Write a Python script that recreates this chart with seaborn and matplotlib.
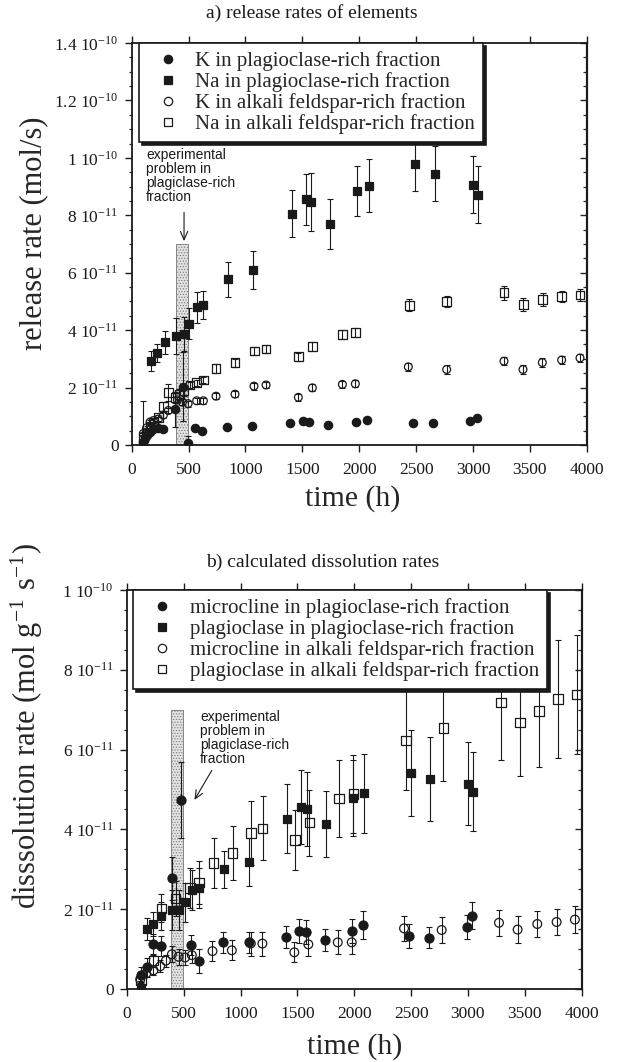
import matplotlib
matplotlib.use("Agg")
import matplotlib.pyplot as plt
import seaborn as sns
import pandas as pd
from matplotlib.lines import Line2D
from matplotlib.patches import Rectangle
from matplotlib.ticker import FixedLocator, FuncFormatter

UNIT = 1e-11  # values below are in units of 1e-11

# ---------------- panel a: release rates (1e-11 mol/s) ----------------
a_K_plag_t = [102, 117, 131, 161, 190, 234, 278, 381, 454, 498, 560, 620, 835, 1055,
              1392, 1509, 1559, 1729, 1969, 2066, 2470, 2646, 2974, 3033]
a_K_plag_v = [0.12, 0.25, 0.35, 0.46, 0.55, 0.59, 0.57, 1.24, 2.03, 0.06, 0.60, 0.50, 0.64, 0.66,
              0.75, 0.83, 0.81, 0.70, 0.81, 0.87, 0.78, 0.75, 0.83, 0.93]
a_K_plag_e = [1.40, 0.05, 0.05, 0.05, 0.05, 0.05, 0.05, 0.60, 1.20, 0.25, 0.10, 0.08, 0.05, 0.05,
              0.05, 0.05, 0.05, 0.05, 0.05, 0.05, 0.05, 0.05, 0.05, 0.05]

a_Na_plag_t = [102, 170, 220, 293, 390, 460, 507, 571, 630, 847, 1063, 1407, 1532, 1573,
               1743, 1983, 2083, 2493, 2667, 2998, 3042]
a_Na_plag_v = [0.05, 2.92, 3.21, 3.57, 3.79, 3.86, 4.23, 4.79, 4.89, 5.77, 6.09, 8.06, 8.56, 8.46,
               7.71, 8.85, 9.03, 9.77, 9.45, 9.07, 8.72]
a_Na_plag_e = [0.05, 0.34, 0.32, 0.40, 0.63, 0.60, 0.55, 0.55, 0.49, 0.60, 0.67, 0.83, 0.89, 1.00,
               0.87, 0.88, 0.92, 0.93, 0.96, 1.00, 1.00]

a_K_alk_t = [102, 131, 161, 190, 234, 278, 322, 402, 446, 496, 571, 630, 741, 908, 1075, 1181,
             1465, 1588, 1852, 1966, 2432, 2769, 3273, 3440, 3610, 3780, 3941]
a_K_alk_v = [0.40, 0.60, 0.80, 0.85, 0.90, 1.04, 1.20, 1.57, 1.49, 1.44, 1.54, 1.54, 1.70, 1.77,
             2.05, 2.09, 1.66, 1.99, 2.11, 2.13, 2.72, 2.63, 2.92, 2.63, 2.87, 2.96, 3.03]
a_K_alk_e = [0.05, 0.05, 0.08, 0.08, 0.08, 0.10, 0.10, 0.10, 0.10, 0.10, 0.10, 0.10, 0.10, 0.10,
             0.12, 0.12, 0.12, 0.12, 0.12, 0.12, 0.15, 0.15, 0.15, 0.15, 0.15, 0.15, 0.15]

a_Na_alk_t = [102, 131, 161, 190, 234, 278, 322, 381, 420, 460, 512, 571, 630, 741, 908, 1078,
              1181, 1465, 1588, 1852, 1966, 2441, 2769, 3273, 3443, 3613, 3780, 3941]
a_Na_alk_v = [0.25, 0.45, 0.65, 0.80, 0.95, 1.33, 1.82, 1.65, 1.75, 1.90, 2.09, 2.17, 2.26, 2.67,
              2.86, 3.27, 3.34, 3.07, 3.42, 3.85, 3.91, 4.87, 4.99, 5.30, 4.89, 5.07, 5.18, 5.22]
a_Na_alk_e = [0.05, 0.05, 0.10, 0.10, 0.10, 0.15, 0.30, 0.20, 0.20, 0.20, 0.10, 0.10, 0.10, 0.15,
              0.15, 0.15, 0.15, 0.15, 0.15, 0.15, 0.15, 0.21, 0.20, 0.25, 0.22, 0.22, 0.20, 0.20]

a_labels = ["K in plagioclase-rich fraction",
            "Na in plagioclase-rich fraction",
            "K in alkali feldspar-rich fraction",
            "Na in alkali feldspar-rich fraction"]

# ---------------- panel b: dissolution rates (1e-11 mol g-1 s-1) ----------------
b_mic_plag_t = [120, 176, 228, 299, 396, 475, 565, 636, 849, 1075, 1400, 1518, 1573, 1743,
                1983, 2080, 2484, 2658, 2995, 3038]
b_mic_plag_v = [0.35, 0.54, 1.12, 1.08, 2.78, 4.74, 1.10, 0.70, 1.17, 1.17, 1.30, 1.46, 1.43, 1.23,
                1.45, 1.60, 1.33, 1.29, 1.56, 1.84]
b_mic_plag_e = [0.20, 0.25, 0.25, 0.25, 0.54, 0.96, 0.25, 0.30, 0.27, 0.27, 0.27, 0.30, 0.30, 0.27,
                0.30, 0.35, 0.30, 0.27, 0.30, 0.33]

b_pl_plag_t = [123, 176, 228, 299, 396, 460, 512, 571, 636, 855, 1075, 1412, 1535, 1582, 1749,
               1993, 2086, 2499, 2666, 2997, 3047]
b_pl_plag_v = [0.02, 1.50, 1.62, 1.83, 1.97, 1.99, 2.17, 2.49, 2.54, 3.00, 3.18, 4.27, 4.56, 4.51,
               4.13, 4.78, 4.91, 5.42, 5.26, 5.14, 4.95]
b_pl_plag_e = [0.05, 0.27, 0.30, 0.35, 0.50, 0.50, 0.50, 0.50, 0.50, 0.46, 0.60, 0.86, 0.92, 0.92,
               0.83, 0.95, 0.99, 1.08, 1.06, 1.04, 0.99]

b_mic_alk_t = [117, 170, 234, 293, 343, 396, 454, 512, 571, 753, 923, 1090, 1192, 1473, 1596,
               1855, 1978, 2438, 2769, 3273, 3437, 3610, 3780, 3941]
b_mic_alk_v = [0.24, 0.39, 0.47, 0.57, 0.71, 0.87, 0.81, 0.79, 0.85, 0.95, 0.97, 1.14, 1.14, 0.92,
               1.12, 1.17, 1.17, 1.52, 1.48, 1.66, 1.49, 1.63, 1.68, 1.74]
b_mic_alk_e = [0.05, 0.10, 0.12, 0.15, 0.15, 0.20, 0.20, 0.20, 0.20, 0.25, 0.25, 0.30, 0.30, 0.25,
               0.30, 0.30, 0.30, 0.32, 0.32, 0.33, 0.33, 0.33, 0.33, 0.33]

b_pl_alk_t = [123, 234, 302, 430, 556, 636, 762, 929, 1093, 1195, 1480, 1606, 1866, 1993, 2455,
              2783, 3290, 3457, 3627, 3794, 3956]
b_pl_alk_v = [0.22, 0.71, 2.02, 2.27, 2.53, 2.67, 3.16, 3.41, 3.91, 4.03, 3.74, 4.17, 4.77, 4.89,
              6.23, 6.54, 7.18, 6.68, 6.97, 7.27, 7.38]
b_pl_alk_e = [0.05, 0.15, 0.35, 0.45, 0.50, 0.55, 0.63, 0.68, 0.80, 0.80, 0.75, 0.83, 0.97, 0.97,
              1.25, 1.33, 1.45, 1.33, 1.40, 1.47, 1.50]

b_labels = ["microcline in plagioclase-rich fraction",
            "plagioclase in plagioclase-rich fraction",
            "microcline in alkali feldspar-rich fraction",
            "plagioclase in alkali feldspar-rich fraction"]

time_ticks = [0, 500, 1000, 1500, 2000, 2500, 3000, 3500, 4000]
problem_window = (390, 495)     # h
problem_height = 7.0            # 1e-11
note_text = "experimental\nproblem in\nplagiclase-rich\nfraction"

# ---------------- style ----------------
sns.set_theme(style="ticks")
plt.rcParams["font.family"] = ["Liberation Serif", "DejaVu Serif"]
plt.rcParams["mathtext.fontset"] = "stix"
plt.rcParams["axes.linewidth"] = 1.3
plt.rcParams["hatch.linewidth"] = 0.5


def rate_label(v, pos):
    k = round(v / UNIT, 4)
    if abs(k) < 1e-9:
        return "0"
    if k < 10:
        return f"{k:g} 10$^{{\\mathregular{{-11}}}}$"
    return f"{k / 10:g} 10$^{{\\mathregular{{-10}}}}$"


def draw_series(ax, t, v, e, marker, filled, size):
    y = [val * UNIT for val in v]
    err = [val * UNIT for val in e]
    ax.errorbar(t, y, yerr=err, fmt="none", ecolor="k", elinewidth=0.8,
                capsize=2.4, capthick=0.8, zorder=2)
    df = pd.DataFrame({"time": t, "rate": y})
    sns.scatterplot(data=df, x="time", y="rate", ax=ax, marker=marker, s=size ** 2,
                    color="k", facecolor="k" if filled else "none", edgecolor="k",
                    linewidth=0.9, zorder=3, legend=False)


def style_axes(ax, ymax):
    ax.set_xlim(0, 4000)
    ax.set_ylim(0, ymax * UNIT)
    major = [k * UNIT for k in range(0, ymax + 1, 2)]
    minor = [k * 0.5 * UNIT for k in range(0, 2 * ymax + 1)]
    ax.xaxis.set_major_locator(FixedLocator(time_ticks))
    ax.yaxis.set_major_locator(FixedLocator(major))
    ax.yaxis.set_minor_locator(FixedLocator(minor))
    ax.yaxis.set_major_formatter(FuncFormatter(rate_label))
    ax.tick_params(axis="x", which="major", direction="out", top=True, bottom=True,
                   length=5, width=1.0, labelsize=12.5, pad=7, colors="k")
    ax.tick_params(axis="y", which="major", direction="out", left=True, right=False,
                   length=5, width=1.0, labelsize=12.5, pad=4.5, colors="k")
    ax.tick_params(axis="y", which="minor", direction="out", left=True, right=False,
                   length=2.5, width=0.9)
    for s in ax.spines.values():
        s.set_visible(True)
        s.set_color("k")
        s.set_linewidth(1.3)
    sec = ax.secondary_yaxis("right")
    sec.yaxis.set_major_locator(FixedLocator(major))
    sec.yaxis.set_minor_locator(FixedLocator(minor))
    sec.tick_params(which="major", direction="in", length=5, width=1.0, labelright=False)
    sec.tick_params(which="minor", direction="in", length=3, width=0.9, labelright=False)
    sec.spines["right"].set_linewidth(1.6)
    ax.add_patch(Rectangle((problem_window[0], 0), problem_window[1] - problem_window[0],
                           problem_height * UNIT, facecolor="#e2e2e2", edgecolor="#777777",
                           hatch="......", linewidth=0.6, zorder=1))


def add_legend(ax, labels, x0):
    handles = [
        Line2D([0], [0], marker="o", ls="none", mfc="k", mec="k", ms=6, mew=0.9),
        Line2D([0], [0], marker="s", ls="none", mfc="k", mec="k", ms=5.5, mew=0.9),
        Line2D([0], [0], marker="o", ls="none", mfc="none", mec="k", ms=6, mew=0.9),
        Line2D([0], [0], marker="s", ls="none", mfc="none", mec="k", ms=6, mew=0.9),
    ]
    leg = ax.legend(handles, labels, loc="upper left", bbox_to_anchor=(x0, 1.0),
                    borderaxespad=0, fontsize=15, frameon=True, fancybox=False,
                    framealpha=1, edgecolor="k", shadow={"color": "k", "alpha": 1},
                    handletextpad=0.3, labelspacing=0.05, borderpad=0.4,
                    handlelength=2.0)
    leg.get_frame().set_linewidth(1.2)
    leg.set_zorder(10)


fig = plt.figure(figsize=(6.19, 10.62), dpi=100)
fig.patch.set_facecolor("white")

# ---- panel a ----
ax1 = fig.add_axes([0.2128, 0.581, 0.735, 0.3785])
style_axes(ax1, 14)
draw_series(ax1, a_K_alk_t, a_K_alk_v, a_K_alk_e, "o", False, 5.6)
draw_series(ax1, a_Na_alk_t, a_Na_alk_v, a_Na_alk_e, "s", False, 6.3)
draw_series(ax1, a_K_plag_t, a_K_plag_v, a_K_plag_e, "o", True, 6.0)
draw_series(ax1, a_Na_plag_t, a_Na_plag_v, a_Na_plag_e, "s", True, 5.8)
add_legend(ax1, a_labels, 0.016)
ax1.set_xlabel("time (h)", fontsize=21.5)
ax1.set_ylabel("release rate (mol/s)", fontsize=22)
ax1.xaxis.set_label_coords(0.486, -0.100)
ax1.yaxis.set_label_coords(-0.184, 0.527)
ax1.text(126, 10.35 * UNIT, note_text, family=["Liberation Sans", "DejaVu Sans"],
         fontsize=10, va="top", ha="left", linespacing=1.0, color="k")
ax1.annotate("", xy=(460, 7.1 * UNIT), xytext=(460, 8.1 * UNIT),
             arrowprops=dict(arrowstyle="->,head_length=0.5,head_width=0.22",
                             lw=0.8, color="k", shrinkA=0, shrinkB=0))

# ---- panel b ----
ax2 = fig.add_axes([0.205, 0.0687, 0.7346, 0.3757])
style_axes(ax2, 10)
draw_series(ax2, b_mic_alk_t, b_mic_alk_v, b_mic_alk_e, "o", False, 6.3)
draw_series(ax2, b_pl_alk_t, b_pl_alk_v, b_pl_alk_e, "s", False, 6.8)
draw_series(ax2, b_mic_plag_t, b_mic_plag_v, b_mic_plag_e, "o", True, 6.5)
draw_series(ax2, b_pl_plag_t, b_pl_plag_v, b_pl_plag_e, "s", True, 6.0)
add_legend(ax2, b_labels, 0.014)
ax2.set_xlabel("time (h)", fontsize=21.5)
ax2.set_ylabel("disssolution rate (mol g$^{\\mathregular{-1}}$ s$^{\\mathregular{-1}}$)",
               fontsize=22)
ax2.xaxis.set_label_coords(0.502, -0.110)
ax2.yaxis.set_label_coords(-0.18, 0.66)
ax2.text(644, 7.0 * UNIT, note_text, family=["Liberation Sans", "DejaVu Sans"],
         fontsize=10, va="top", ha="left", linespacing=1.0, color="k")
ax2.annotate("", xy=(594, 4.74 * UNIT), xytext=(747, 5.48 * UNIT),
             arrowprops=dict(arrowstyle="->,head_length=0.5,head_width=0.22",
                             lw=0.8, color="k", shrinkA=0, shrinkB=0))

fig.text(0.504, 0.9878, "a) release rates of elements", ha="center", va="center",
         fontsize=14, color="k")
fig.text(0.522, 0.4708, "b) calculated dissolution rates", ha="center", va="center",
         fontsize=14, color="k")

fig.savefig("out.png", dpi=100, facecolor="white")
